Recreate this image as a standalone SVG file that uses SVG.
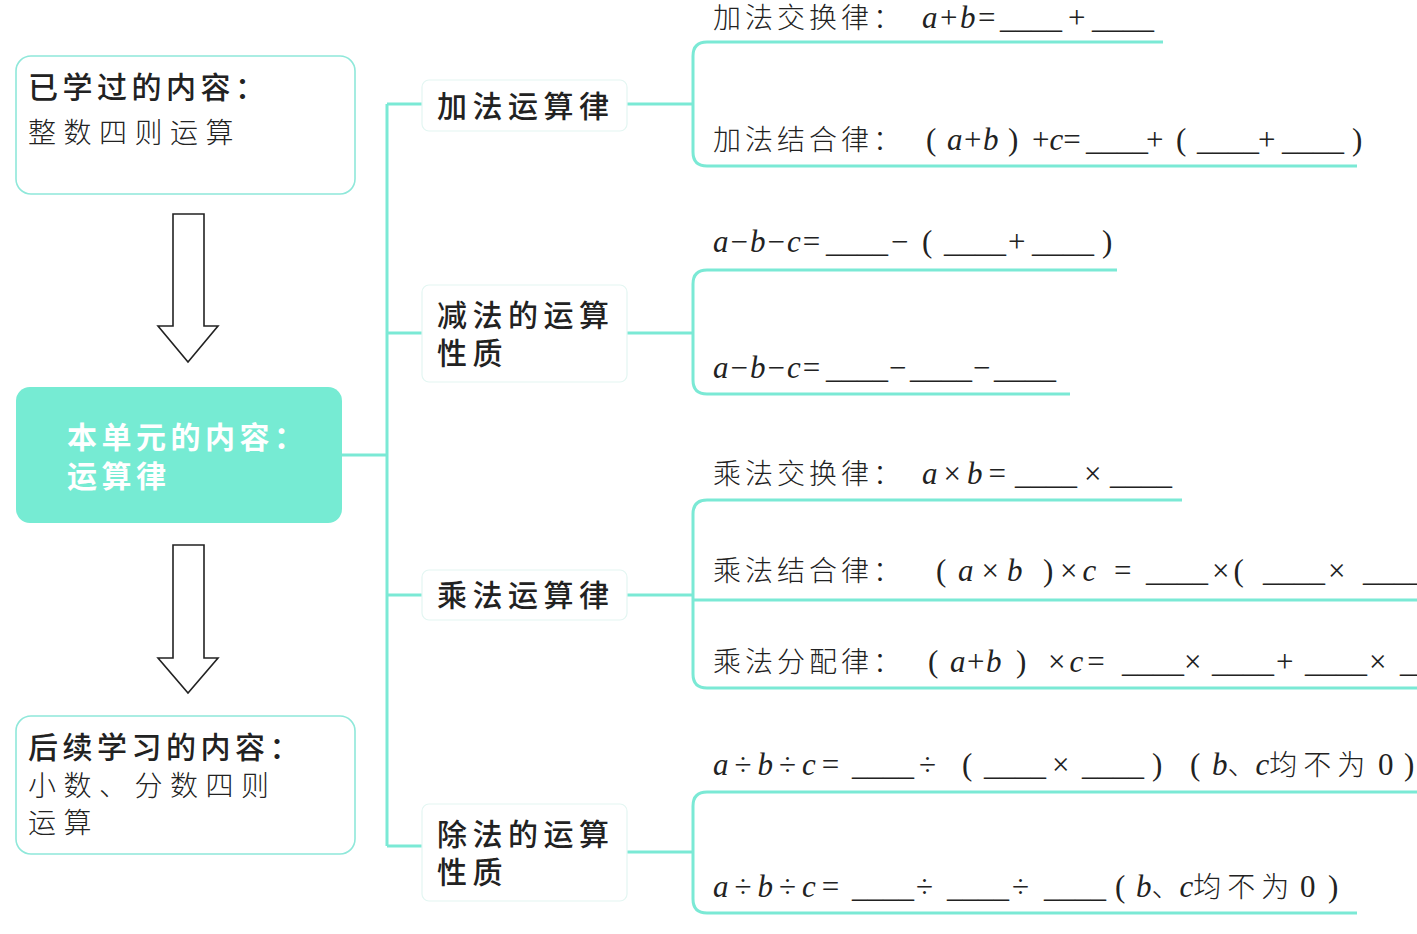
<svg xmlns="http://www.w3.org/2000/svg" width="1417" height="934" viewBox="0 0 1417 934">
<style>
.bg{fill:#ffffff}
.lbox{fill:#ffffff;stroke:#8fe8da;stroke-width:1.6}
.mbox{fill:#ffffff;stroke:#e3f6f2;stroke-width:1.2}
.cbox{fill:#76ebd3}
.con{fill:none;stroke:#7be9d5;stroke-width:3}
.arrow{fill:#ffffff;stroke:#222;stroke-width:1.6;stroke-linejoin:miter}
.h{font-family:"Noto Sans CJK SC",sans-serif;font-weight:500;font-size:30px;fill:#222;letter-spacing:4.5px}
.k{font-family:"Noto Sans CJK SC",sans-serif;font-weight:300;font-size:28px;fill:#222;letter-spacing:7.5px}
.w{font-family:"Noto Sans CJK SC",sans-serif;font-weight:700;font-size:30px;fill:#ffffff;letter-spacing:4.5px}
.n{font-family:"Noto Sans CJK SC",sans-serif;font-weight:500;font-size:30px;fill:#222;letter-spacing:5.5px}
.f{font-family:"Liberation Serif","Noto Sans CJK SC",serif;font-size:31px;fill:#222}
.c{font-family:"Noto Sans CJK SC",sans-serif;font-weight:300;font-size:28px;letter-spacing:4px}
.i{font-style:italic}
</style>
<rect class="bg" x="0" y="0" width="1417" height="934"/>

<g id="connectors">
  <path class="con" d="M342,455 H387"/>
  <path class="con" d="M387,104 V846"/>
  <path class="con" d="M387,104 H422 M387,333 H422 M387,595 H422 M387,846 H422"/>
  <path class="con" d="M627,104 H693 M627,333 H693 M627,595 H693 M627,852 H693"/>
  <path class="con" d="M1163,42 H707 Q693,42 693,56 V152 Q693,166 707,166 H1357"/>
  <path class="con" d="M1117,270 H707 Q693,270 693,284 V380 Q693,394 707,394 H1070"/>
  <path class="con" d="M1182,500 H707 Q693,500 693,514 V674 Q693,688 707,688 H1417 M693,600 H1417"/>
  <path class="con" d="M1417,792 H707 Q693,792 693,806 V899 Q693,913 707,913 H1357"/>
</g>

<g id="arrows">
  <polygon class="arrow" points="173,214 204,214 204,326 218,326 188,362 158,326 173,326"/>
  <polygon class="arrow" points="173,545 204,545 204,658 218,658 188,693 158,658 173,658"/>
</g>

<g id="node-learned">
  <rect class="lbox" x="16" y="56" width="339" height="138" rx="15"/>
  <text class="h" x="28" y="98">已学过的内容：</text>
  <text class="k" x="28" y="143">整数四则运算</text>
</g>

<g id="node-unit">
  <rect class="cbox" x="16" y="387" width="326" height="136" rx="14"/>
  <text class="w" x="67" y="448">本单元的内容：</text>
  <text class="w" x="67" y="487">运算律</text>
</g>

<g id="node-later">
  <rect class="lbox" x="16" y="716" width="339" height="138" rx="15"/>
  <text class="h" x="28" y="758">后续学习的内容：</text>
  <text class="k" x="28" y="796">小数、分数四则</text>
  <text class="k" x="28" y="833">运算</text>
</g>

<g id="node-add">
  <rect class="mbox" x="422" y="80" width="205" height="51" rx="7"/>
  <text class="n" x="437" y="117">加法运算律</text>
</g>
<g id="node-sub">
  <rect class="mbox" x="422" y="285" width="205" height="97" rx="7"/>
  <text class="n" x="437" y="326">减法的运算</text>
  <text class="n" x="437" y="364">性质</text>
</g>
<g id="node-mul">
  <rect class="mbox" x="422" y="570" width="205" height="50" rx="7"/>
  <text class="n" x="437" y="606">乘法运算律</text>
</g>
<g id="node-div">
  <rect class="mbox" x="422" y="804" width="205" height="97" rx="7"/>
  <text class="n" x="437" y="845">除法的运算</text>
  <text class="n" x="437" y="883">性质</text>
</g>

<g id="formulas-add">
  <text class="f" y="28"><tspan class="c" x="713">加法交换律：</tspan><tspan x="922" style="letter-spacing:2.5px"><tspan class="i">a</tspan>+<tspan class="i">b</tspan>=</tspan><tspan x="1000">____</tspan><tspan x="1068">+</tspan><tspan x="1092">____</tspan></text>
  <text class="f" y="150"><tspan class="c" x="713">加法结合律：</tspan><tspan x="926">(</tspan><tspan x="947" style="letter-spacing:1.5px"><tspan class="i">a</tspan>+<tspan class="i">b</tspan></tspan><tspan x="1008">)</tspan><tspan x="1032">+<tspan class="i">c</tspan>=</tspan><tspan x="1086">____</tspan><tspan x="1146">+</tspan><tspan x="1176">(</tspan><tspan x="1197">____</tspan><tspan x="1258">+</tspan><tspan x="1282">____</tspan><tspan x="1352">)</tspan></text>
</g>

<g id="formulas-sub">
  <text class="f" y="252"><tspan x="713" style="letter-spacing:2px"><tspan class="i">a</tspan>−<tspan class="i">b</tspan>−<tspan class="i">c</tspan>=</tspan><tspan x="826">____</tspan><tspan x="891">−</tspan><tspan x="922">(</tspan><tspan x="944">____</tspan><tspan x="1008">+</tspan><tspan x="1032">____</tspan><tspan x="1102">)</tspan></text>
  <text class="f" y="378"><tspan x="713" style="letter-spacing:2px"><tspan class="i">a</tspan>−<tspan class="i">b</tspan>−<tspan class="i">c</tspan>=</tspan><tspan x="826">____</tspan><tspan x="889">−</tspan><tspan x="910">____</tspan><tspan x="973">−</tspan><tspan x="994">____</tspan></text>
</g>

<g id="formulas-mul">
  <text class="f" y="484"><tspan class="c" x="713">乘法交换律：</tspan><tspan x="922" style="letter-spacing:6px"><tspan class="i">a</tspan>×<tspan class="i">b</tspan>=</tspan><tspan x="1015">____</tspan><tspan x="1084">×</tspan><tspan x="1110">____</tspan></text>
  <text class="f" y="581"><tspan class="c" x="713">乘法结合律：</tspan><tspan x="936">(</tspan><tspan x="958" style="letter-spacing:8px"><tspan class="i">a</tspan>×<tspan class="i">b</tspan></tspan><tspan x="1043">)</tspan><tspan x="1060" style="letter-spacing:5px">×<tspan class="i">c</tspan> =</tspan><tspan x="1146">____</tspan><tspan x="1212" style="letter-spacing:4px">×(</tspan><tspan x="1263">____</tspan><tspan x="1328">×</tspan><tspan x="1363">____</tspan></text>
  <text class="f" y="672"><tspan class="c" x="713">乘法分配律：</tspan><tspan x="928">(</tspan><tspan x="950" style="letter-spacing:1.5px"><tspan class="i">a</tspan>+<tspan class="i">b</tspan></tspan><tspan x="1016">)</tspan><tspan x="1048" style="letter-spacing:4px">×<tspan class="i">c</tspan>=</tspan><tspan x="1122">____</tspan><tspan x="1184">×</tspan><tspan x="1212">____</tspan><tspan x="1276">+</tspan><tspan x="1305">____</tspan><tspan x="1369">×</tspan><tspan x="1400">____</tspan></text>
</g>

<g id="formulas-div">
  <text class="f" y="775"><tspan x="713" style="letter-spacing:6px"><tspan class="i">a</tspan>÷<tspan class="i">b</tspan>÷<tspan class="i">c</tspan>=</tspan><tspan x="852">____</tspan><tspan x="919">÷</tspan><tspan x="962">(</tspan><tspan x="984">____</tspan><tspan x="1052">×</tspan><tspan x="1082">____</tspan><tspan x="1152">)</tspan><tspan x="1190">(</tspan><tspan x="1212" class="i">b</tspan><tspan class="c" style="letter-spacing:0">、</tspan><tspan class="i">c</tspan><tspan class="c" style="letter-spacing:6px">均不为</tspan><tspan x="1378">0</tspan><tspan x="1404">)</tspan></text>
  <text class="f" y="897"><tspan x="713" style="letter-spacing:6px"><tspan class="i">a</tspan>÷<tspan class="i">b</tspan>÷<tspan class="i">c</tspan>=</tspan><tspan x="852">____</tspan><tspan x="916">÷</tspan><tspan x="947">____</tspan><tspan x="1012">÷</tspan><tspan x="1044">____</tspan><tspan x="1115">(</tspan><tspan x="1136" class="i">b</tspan><tspan class="c" style="letter-spacing:0">、</tspan><tspan class="i">c</tspan><tspan class="c" style="letter-spacing:6px">均不为</tspan><tspan x="1300">0</tspan><tspan x="1328">)</tspan></text>
</g>
</svg>
